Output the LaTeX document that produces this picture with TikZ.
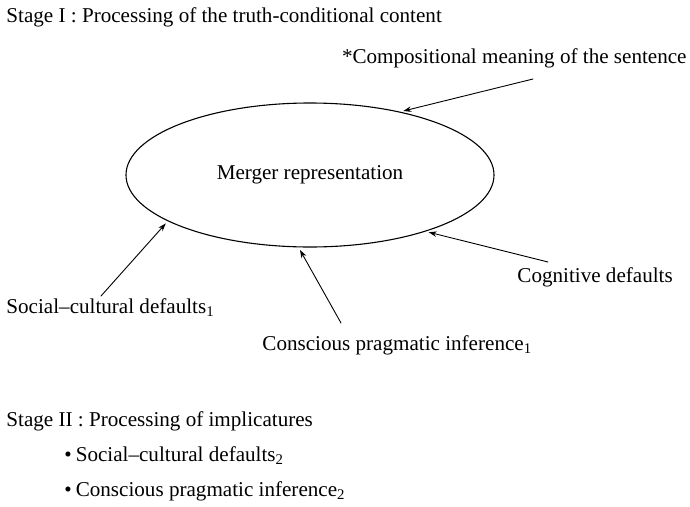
\documentclass[tikz,border=0pt]{standalone}
\usepackage{fontspec}
\setmainfont{Liberation Serif}
\usetikzlibrary{arrows.meta,positioning,shapes.geometric}

\begin{document}
\begin{tikzpicture}[x=1pt,y=-1pt,->,>={Stealth[length=8pt,width=5.5pt]},line cap=round,
                    shorten >=3pt,line width=0.9pt,
                    every node/.style={font=\fontsize{21.1}{25}\selectfont},
                    words/.style={inner sep=0pt,anchor=base west},
                    blob/.style={ellipse,draw,line width=1.1pt,inner sep=0pt,
                                 minimum width=368pt,minimum height=144pt},
                   ]
  \useasboundingbox (0,0) rectangle (690,506);

  \node[words]               (stageI)  at (6,22)    {Stage I : Processing of the truth-conditional content};
  \node[words,anchor=base east] (comp) at (687,63)  {*Compositional meaning of the sentence};
  \node[blob]                (merger)  at (310,175) {Merger representation};
  \node[words]               (cogn)    at (517,282) {Cognitive defaults};
  \node[words]               (socI)    at (6,313)   {Social--cultural defaults\textsubscript{1}};
  \node[words]               (consI)   at (262,350) {Conscious pragmatic inference\textsubscript{1}};

  \node[words]               (stageII) at (6,426)   {Stage II : Processing of implicatures};
  \node[words]               (socII)   at (64,461)  {\textbullet\hspace{4pt}Social--cultural defaults\textsubscript{2}};
  \node[words]               (consII)  at (64,496)  {\textbullet\hspace{4pt}Conscious pragmatic inference\textsubscript{2}};

  \coordinate (compTail) at (533,79);
  \coordinate (cognTail) at (548,262);
  \coordinate (socTail)  at (101,296);
  \coordinate (consTail) at (341,323);

  \path (compTail) edge (merger.35)
        (cognTail) edge (merger.-26)
        (socTail)  edge (merger.198)
        (consTail) edge (merger.261)
        ;
\end{tikzpicture}
\end{document}
